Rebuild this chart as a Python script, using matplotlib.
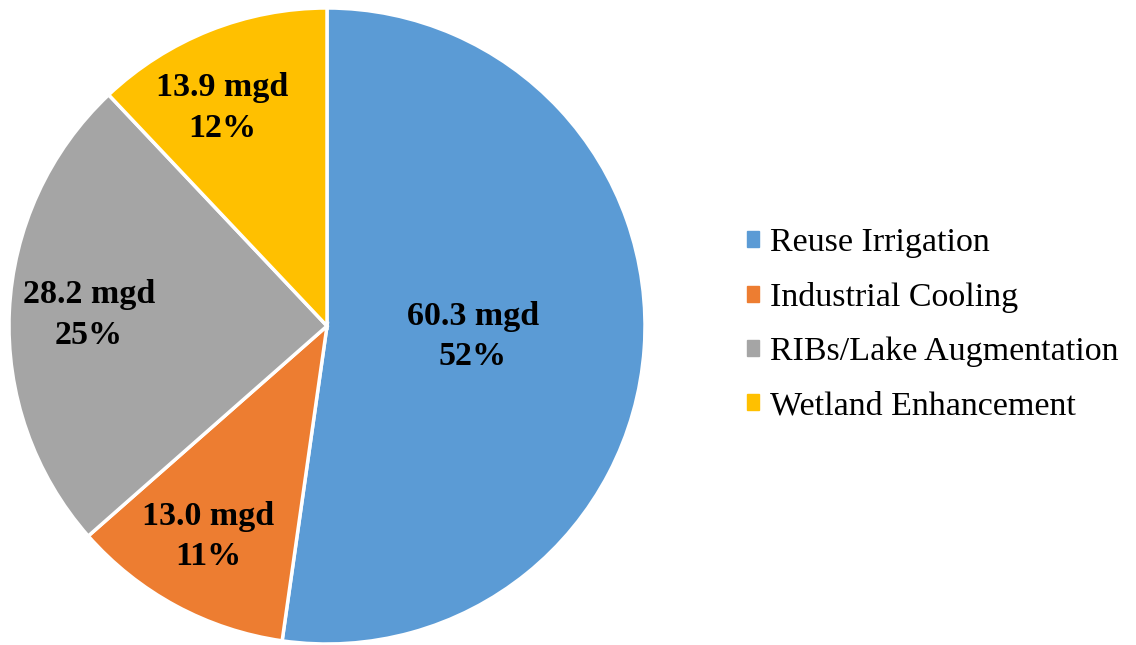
import matplotlib.pyplot as plt
import numpy as np

# Reclaimed water use (mgd)
categories = ['Reuse Irrigation', 'Industrial Cooling', 'RIBs/Lake Augmentation', 'Wetland Enhancement']
flows = [60.3, 13.0, 28.2, 13.9]
percents = ['52%', '11%', '25%', '12%']

colors = ['#5B9BD5', '#ED7D31', '#A5A5A5', '#FFC000']
label_dist = [0.46, 0.76, 0.75, 0.76]
label_shift = [0, -1, 0, 4]  # degrees, nudges like Excel's placement

plt.rcParams['font.family'] = ['Liberation Serif', 'DejaVu Serif']

fig = plt.figure(figsize=(11.36, 6.45), dpi=100)
ax = fig.add_axes([9 / 1136, 1 / 645, 636 / 1136, 636 / 645])

wedges, _ = ax.pie(flows, colors=colors, startangle=90, counterclock=False,
                   wedgeprops=dict(edgecolor='white', linewidth=2.5))
ax.set_xlim(-1.0, 1.0)
ax.set_ylim(-1.0, 1.0)
ax.set_aspect('equal')

# Data labels: value and share, placed along each wedge's middle angle
for w, v, p, d, s in zip(wedges, flows, percents, label_dist, label_shift):
    ang = np.deg2rad((w.theta1 + w.theta2) / 2 + s)
    ax.text(d * np.cos(ang), d * np.sin(ang), f'{v:.1f} mgd\n{p}',
            ha='center', va='center', fontsize=24.5, fontweight='bold',
            linespacing=1.4)

handles = [plt.Rectangle((0, 0), 1, 1, color=c) for c in colors]
fig.legend(handles, categories, loc='center left', bbox_to_anchor=(0.6576, 0.497),
           frameon=False, fontsize=24.5, handlelength=0.35, handleheight=0.35,
           handletextpad=0.32, labelspacing=0.7, borderaxespad=0, borderpad=0)

fig.savefig('out.png', dpi=100)
